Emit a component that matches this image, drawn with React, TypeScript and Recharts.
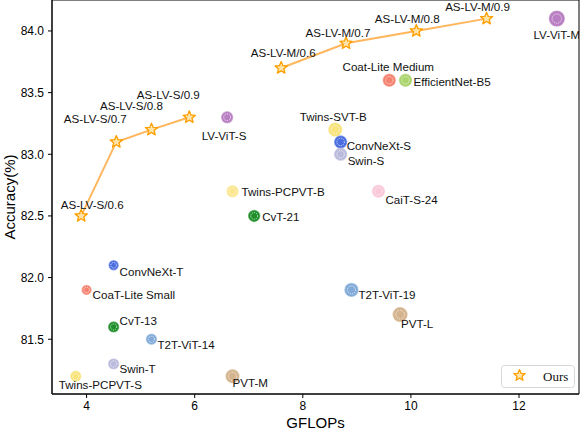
import React from 'react';
import { ScatterChart, Scatter, XAxis, YAxis, ReferenceArea, Legend } from 'recharts';

const modelNames = [
  'LV-ViT-M', 'LV-ViT-S', 'Coat-Lite Medium', 'EfficientNet-B5', 'Twins-SVT-B',
  'ConvNeXt-S', 'Swin-S', 'CaiT-S-24', 'Twins-PCPVT-B', 'CvT-21',
  'ConvNeXt-T', 'CoaT-Lite Small', 'CvT-13', 'T2T-ViT-14', 'Swin-T',
  'Twins-PCPVT-S', 'PVT-M', 'T2T-ViT-19', 'PVT-L',
];
const modelGflops = [12.7, 6.6, 9.6, 9.9, 8.6, 8.7, 8.7, 9.4, 6.7, 7.1, 4.5, 4.0, 4.5, 5.2, 4.5, 3.8, 6.7, 8.9, 9.8];
const modelAccuracy = [84.1, 83.3, 83.6, 83.6, 83.2, 83.1, 83.0, 82.7, 82.7, 82.5, 82.1, 81.9, 81.6, 81.5, 81.3, 81.2, 81.2, 81.9, 81.7];

const oursSmallNames = ['AS-LV-S/0.6', 'AS-LV-S/0.7', 'AS-LV-S/0.8', 'AS-LV-S/0.9'];
const oursSmallGflops = [3.9, 4.55, 5.2, 5.9];
const oursSmallAccuracy = [82.5, 83.1, 83.2, 83.3];

const oursMediumNames = ['AS-LV-M/0.6', 'AS-LV-M/0.7', 'AS-LV-M/0.8', 'AS-LV-M/0.9'];
const oursMediumGflops = [7.6, 8.8, 10.1, 11.4];
const oursMediumAccuracy = [83.7, 83.9, 84.0, 84.1];

const xTicks = [4, 6, 8, 10, 12];
const yTicks = [81.5, 82.0, 82.5, 83.0, 83.5, 84.0];

const toPoints = (names: string[], xs: number[], ys: number[]) =>
  names.map((name, i) => ({ name, gflops: xs[i], acc: ys[i] }));

const models = toPoints(modelNames, modelGflops, modelAccuracy);
const oursSmall = toPoints(oursSmallNames, oursSmallGflops, oursSmallAccuracy);
const oursMedium = toPoints(oursMediumNames, oursMediumGflops, oursMediumAccuracy);

// marker colour and radius per model
const markerStyle: Record<string, { color: string; r: number }> = {
  'LV-ViT-M': { color: '#b97fc3', r: 7.5 },
  'LV-ViT-S': { color: '#b97fc3', r: 5.5 },
  'Coat-Lite Medium': { color: '#f4826f', r: 6 },
  'EfficientNet-B5': { color: '#aad46c', r: 6 },
  'Twins-SVT-B': { color: '#f8e37c', r: 6.5 },
  'ConvNeXt-S': { color: '#4a6ee0', r: 6 },
  'Swin-S': { color: '#babadc', r: 6 },
  'CaiT-S-24': { color: '#f9c8d9', r: 6 },
  'Twins-PCPVT-B': { color: '#fbe68e', r: 5.5 },
  'CvT-21': { color: '#1f8f2a', r: 5.5 },
  'ConvNeXt-T': { color: '#4a6ee0', r: 4.5 },
  'CoaT-Lite Small': { color: '#f4826f', r: 4.5 },
  'CvT-13': { color: '#1f8f2a', r: 5 },
  'T2T-ViT-14': { color: '#82abd9', r: 5 },
  'Swin-T': { color: '#babadc', r: 5 },
  'Twins-PCPVT-S': { color: '#f8e37c', r: 5 },
  'PVT-M': { color: '#d4b48e', r: 6.5 },
  'T2T-ViT-19': { color: '#82abd9', r: 6.5 },
  'PVT-L': { color: '#d4b48e', r: 7 },
};

// label offset from the marker centre: dx, dy, anchor
const labelPlace: Record<string, [number, number, 'start' | 'middle' | 'end']> = {
  'LV-ViT-M': [0, 16, 'middle'],
  'LV-ViT-S': [-3, 18, 'middle'],
  'Coat-Lite Medium': [-1, -14, 'middle'],
  'EfficientNet-B5': [8, 1, 'start'],
  'Twins-SVT-B': [-2, -13, 'middle'],
  'ConvNeXt-S': [6, 3.5, 'start'],
  'Swin-S': [7, 6.5, 'start'],
  'CaiT-S-24': [7, 8, 'start'],
  'Twins-PCPVT-B': [9, 0, 'start'],
  'CvT-21': [8, 1, 'start'],
  'ConvNeXt-T': [6, 6, 'start'],
  'CoaT-Lite Small': [6, 5, 'start'],
  'CvT-13': [6, -6, 'start'],
  'T2T-ViT-14': [6, 5, 'start'],
  'Swin-T': [6, 5, 'start'],
  'Twins-PCPVT-S': [-17, 8, 'start'],
  'PVT-M': [0, 6, 'start'],
  'T2T-ViT-19': [7, 5, 'start'],
  'PVT-L': [1, 9, 'start'],
  'AS-LV-S/0.6': [11, -11, 'middle'],
  'AS-LV-S/0.7': [-21, -23, 'middle'],
  'AS-LV-S/0.8': [-20, -24, 'middle'],
  'AS-LV-S/0.9': [-21, -23, 'middle'],
  'AS-LV-M/0.6': [2, -15, 'middle'],
  'AS-LV-M/0.7': [-8, -11, 'middle'],
  'AS-LV-M/0.8': [-9, -12, 'middle'],
  'AS-LV-M/0.9': [-9, -12, 'middle'],
};

const sans = 'Liberation Sans, Arial, Helvetica, sans-serif';

function starPath(cx: number, cy: number, R: number, inner = 0.45) {
  let d = '';
  for (let i = 0; i < 10; i++) {
    const rad = i % 2 === 0 ? R : R * inner;
    const a = -Math.PI / 2 + (i * Math.PI) / 5;
    d += (i === 0 ? 'M' : 'L') + (cx + rad * Math.cos(a)).toFixed(2) + ',' + (cy + rad * Math.sin(a)).toFixed(2);
  }
  return d + 'Z';
}

function StarGlyph({ cx, cy, r }: { cx: number; cy: number; r: number }) {
  return (
    <g>
      <path d={starPath(cx, cy, r)} fill="#ffb52e" stroke="#ff9f00" strokeWidth={1.2} strokeLinejoin="round" />
      <path d={starPath(cx, cy, r * 0.55)} fill="#ffe3a6" stroke="#fff" strokeWidth={0.6} strokeDasharray="1 0.8" />
    </g>
  );
}

function Label({ cx, cy, name }: { cx: number; cy: number; name: string }) {
  const [dx, dy, anchor] = labelPlace[name] || [6, 5, 'start'];
  return (
    <text x={cx + dx} y={cy + dy} textAnchor={anchor} dominantBaseline="central" fontSize={11.6} fontFamily={sans} fill="#111">
      {name}
    </text>
  );
}

function ModelDot(props: any) {
  const { cx, cy, payload } = props;
  const s = markerStyle[payload.name];
  return (
    <g>
      <circle cx={cx} cy={cy} r={s.r} fill={s.color} stroke={s.color} strokeOpacity={0.55} strokeWidth={1.4} />
      <circle cx={cx} cy={cy} r={s.r * 0.62} fill="none" stroke="#fff" strokeOpacity={0.9} strokeWidth={0.8} strokeDasharray="1.2 1" />
      <Label cx={cx} cy={cy} name={payload.name} />
    </g>
  );
}

function OursStar(props: any) {
  const { cx, cy, payload } = props;
  return (
    <g>
      <StarGlyph cx={cx} cy={cy} r={6.5} />
      <Label cx={cx} cy={cy} name={payload.name} />
    </g>
  );
}

function OursLegend() {
  return (
    <svg width={75} height={24}>
      <rect x={0.5} y={0.5} width={73} height={22} rx={3} fill="#fff" stroke="#d8d8d8" />
      <StarGlyph cx={18.5} cy={10.5} r={6} />
      <text x={42} y={15.5} fontSize={13} fontFamily="Liberation Serif, Times New Roman, serif" fill="#111">
        Ours
      </text>
    </svg>
  );
}

const X_DOMAIN: [number, number] = [3.36, 13.11];
const Y_DOMAIN: [number, number] = [81.056, 84.251];

export default function App() {
  const lineStyle = { stroke: '#ffb65c', strokeWidth: 2 };
  return (
    <div>
      <style>{'body{margin:0}'}</style>
      <ScatterChart width={582} height={432} margin={{ top: 0, right: 3, bottom: 0, left: 0 }}>
        <XAxis
          type="number"
          dataKey="gflops"
          domain={X_DOMAIN}
          ticks={xTicks}
          allowDataOverflow
          height={38}
          tickSize={4}
          tickMargin={3}
          stroke="#000"
          tick={{ fontSize: 12, fill: '#000', fontFamily: sans }}
          label={{
            content: (p: any) => {
              const vb = p.viewBox || { x: 52, y: 394, width: 527, height: 38 };
              return (
                <text x={vb.x + vb.width / 2} y={vb.y + 28} textAnchor="middle" dominantBaseline="central" fontSize={15} fontFamily={sans} fill="#000">
                  GFLOPs
                </text>
              );
            },
          }}
        />
        <YAxis
          type="number"
          dataKey="acc"
          domain={Y_DOMAIN}
          ticks={yTicks}
          allowDataOverflow
          width={52}
          tickSize={4}
          tickMargin={4}
          stroke="#000"
          tickFormatter={(v: number) => v.toFixed(1)}
          tick={{ fontSize: 12, fill: '#000', fontFamily: sans }}
          label={{
            content: (p: any) => {
              const vb = p.viewBox || { x: 0, y: 0, width: 52, height: 394 };
              const x = vb.x + 9;
              const y = vb.y + vb.height / 2;
              return (
                <text x={x} y={y} transform={`rotate(-90, ${x}, ${y})`} textAnchor="middle" dominantBaseline="central" fontSize={15} fontFamily={sans} fill="#000">
                  Accuracy(%)
                </text>
              );
            },
          }}
        />
        <ReferenceArea x1={X_DOMAIN[0]} x2={X_DOMAIN[1]} y1={Y_DOMAIN[0]} y2={Y_DOMAIN[1]} fill="none" stroke="#000" strokeWidth={1} fillOpacity={0} />
        <Scatter name="models" data={models} shape={ModelDot} isAnimationActive={false} legendType="none" />
        <Scatter name="Ours" data={oursSmall} shape={OursStar} line={lineStyle} lineType="joint" isAnimationActive={false} />
        <Scatter name="Ours-M" data={oursMedium} shape={OursStar} line={lineStyle} lineType="joint" isAnimationActive={false} legendType="none" />
        <Legend
          layout="vertical"
          align="center"
          verticalAlign="middle"
          content={() => <OursLegend />}
          wrapperStyle={{ position: 'absolute', left: 501, top: 365, width: 75, height: 24, lineHeight: 0 }}
        />
      </ScatterChart>
    </div>
  );
}
